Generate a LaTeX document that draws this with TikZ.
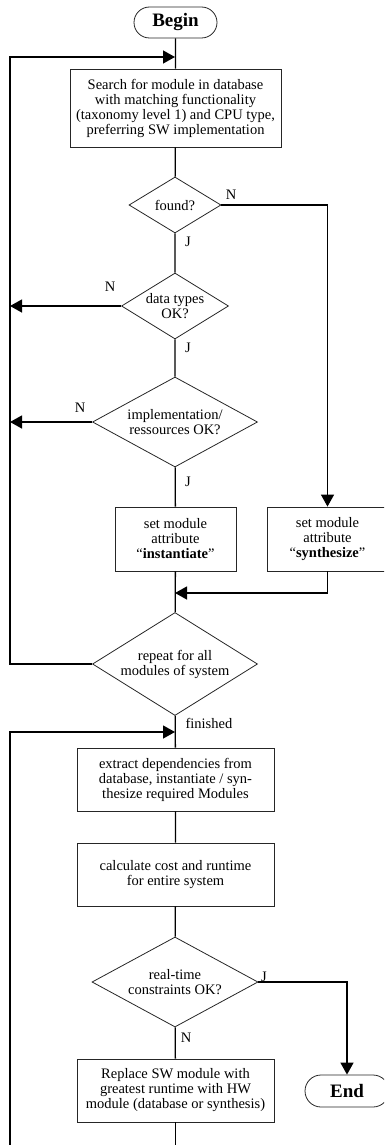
\documentclass[tikz,border=0pt]{standalone}
\usepackage{fontspec}
\setmainfont{Liberation Serif}
\usetikzlibrary{arrows.meta,shapes.geometric}
\tikzset{
  every node/.style={font=\fontsize{14.5}{15}\selectfont},
  terminal/.style={draw=black!85,line width=0.8pt,rectangle,rounded corners=15.5pt,
    minimum width=83pt,minimum height=31pt,inner sep=0pt,
    font=\fontsize{19}{20}\selectfont\bfseries},
  stepbox/.style={draw=black!85,line width=0.8pt,rectangle,align=center,inner sep=0pt},
  decision/.style={draw=black!85,line width=0.8pt,diamond,align=center,inner sep=-4pt,shape aspect=1.65},
  flow/.style={line width=1.3pt},
  flowarrow/.style={flow,-{Triangle[length=12pt,width=13pt]}},
}
\begin{document}
\begin{tikzpicture}[x=1pt,y=-1pt]
  \useasboundingbox (0,0) rectangle (384,1145);
  \clip (0,0) rectangle (384,1145);
  % first pass: one module at a time
  \node[terminal] (begin) at (175.5,22.5) {Begin};
  \node[stepbox,minimum width=211pt,minimum height=78pt] (search) at (175.5,108)
    {Search for module in database\\with matching functionality\\(taxonomy level 1) and CPU type,\\preferring SW implementation};
  \node[decision,minimum width=92pt,minimum height=56pt] (found) at (175,205) {found?};
  \node[decision,minimum width=107pt,minimum height=66pt] (dtypes) at (175,306) {data types\\OK?};
  \node[decision,minimum width=165pt,minimum height=90pt] (impl) at (175,422) {implementation/\\ressources OK?};
  \node[stepbox,minimum width=121pt,minimum height=64pt] (inst) at (175.5,539)
    {set module\\attribute\\“\textbf{instantiate}”};
  \node[stepbox,minimum width=121pt,minimum height=64pt] (synth) at (327.5,539)
    {set module\\attribute\\“\textbf{synthesize}”};
  \node[decision,minimum width=165pt,minimum height=103pt] (repeat) at (175,664) {repeat for all\\modules of system};
  % second pass: whole system
  \node[stepbox,minimum width=197pt,minimum height=63pt] (extract) at (175.5,779.5)
    {extract dependencies from\\database, instantiate / syn-\\thesize required Modules};
  \node[stepbox,minimum width=197pt,minimum height=63pt] (calc) at (175.5,874.5)
    {calculate cost and runtime\\for entire system};
  \node[decision,minimum width=166pt,minimum height=90pt] (rt) at (175,982) {real-time\\constraints OK?};
  \node[stepbox,minimum width=197pt,minimum height=63pt] (replace) at (175.5,1090.5)
    {Replace SW module with\\greatest runtime with HW\\module (database or synthesis)};
  \node[terminal,minimum width=84pt,minimum height=32pt,rounded corners=16pt] (end) at (347,1091) {End};

  \coordinate (lft) at (10,0);
  \coordinate (j1) at (175,57);
  \coordinate (j2) at (175,593);
  \coordinate (j3) at (175,732);
  \coordinate (bl) at (10,1160);

  \draw[flow] (begin) -- (search) -- (found) -- (dtypes) -- (impl) -- (inst) -- (repeat) -- (extract) -- (calc) -- (rt) -- (replace);
  \draw[flowarrow] (found.east) -| (synth.north);
  \draw[flowarrow] (dtypes.west) -- (dtypes.west -| lft);
  \draw[flowarrow] (impl.west) -- (impl.west -| lft);
  \draw[flowarrow] (synth.south) |- (j2);
  \draw[flowarrow] (repeat.west) -- (repeat.west -| lft) |- (j1);
  \draw[flowarrow] (rt.east) -| (end.north);
  \draw[flowarrow] (replace.south) |- (bl) |- (j3);

  \node (n1) at (231,195) {N};
  \node (y1) at (188,242) {J};
  \node (n2) at (110,287) {N};
  \node (y2) at (188,348) {J};
  \node (n3) at (80,408) {N};
  \node (y3) at (188,482) {J};
  \node[anchor=west] (fin) at (182,723) {finished};
  \node (y4) at (264,977) {J};
  \node (n4) at (186,1038) {N};
\end{tikzpicture}
\end{document}
